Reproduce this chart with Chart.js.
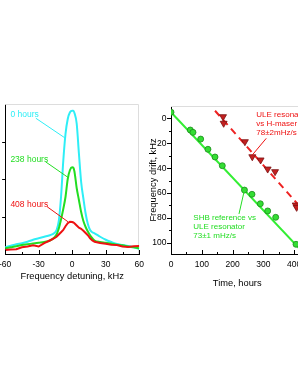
<!DOCTYPE html>
<html><head><meta charset="utf-8">
<script src="https://cdn.jsdelivr.net/npm/chart.js@4"></script>
<style>
html,body{margin:0;padding:0;width:298px;height:385px;overflow:hidden;background:#fff;}
#c1{position:absolute;left:-7px;top:0;}
#c2{position:absolute;left:140px;top:0;}
</style></head><body>
<canvas id="c1" width="157" height="385"></canvas>
<canvas id="c2" width="170" height="385"></canvas>
<script>
// ---- Left panel: spectral hole profiles ----
const detuning = [-60,-55,-50,-45,-40,-35,-30,-25,-20,-16,-14,-12,-10,-8,-6,-4,-2,0,1,2,4,6,8,10,12,14,16,18,20,25,30,35,40,45,50,55,60];
const hours0   = [0.045,0.055,0.065,0.072,0.082,0.095,0.105,0.115,0.125,0.14,0.16,0.22,0.38,0.62,0.8,0.9,0.945,0.955,0.955,0.94,0.87,0.67,0.48,0.37,0.27,0.2,0.16,0.145,0.138,0.115,0.095,0.08,0.067,0.06,0.053,0.045,0.033];
const hours238 = [0.038,0.045,0.052,0.06,0.065,0.07,0.075,0.08,0.09,0.11,0.13,0.17,0.23,0.30,0.38,0.50,0.56,0.578,0.575,0.55,0.44,0.36,0.28,0.22,0.18,0.15,0.125,0.105,0.09,0.08,0.075,0.068,0.062,0.058,0.05,0.045,0.038];
const hours408 = [0.027,0.03,0.032,0.045,0.05,0.058,0.05,0.072,0.09,0.105,0.115,0.13,0.145,0.16,0.185,0.205,0.215,0.213,0.21,0.205,0.19,0.175,0.168,0.155,0.14,0.125,0.105,0.09,0.082,0.074,0.068,0.062,0.06,0.05,0.046,0.052,0.054];
const detTicks = [-60,-30,0,30,60];

// ---- Right panel: frequency drift ----
const shbHours = [0,62.7,71.4,96.4,120,142.9,166.6,238.6,263,290,314,340,406];
const shbDrift = [-5,9.3,11.2,16.6,24.8,31,38,57.6,61,68.6,74.4,79.5,101.2];
const uleHours = [169,171,240,264,291,314,338,405,408];
const uleDrift = [-1.4,3.9,18.7,30.8,33.4,40.7,42.8,69.6,71.5];
const shbFitHours = [0,430];
const shbFitDrift = [-5,108];
const uleFitHours = [143,430];
const uleFitDrift = [-6.2,74];
const timeTicks = [0,100,200,300,400];
const driftTicks = [0,20,40,60,80,100];

Chart.defaults.font.family = "'Liberation Sans', Arial, sans-serif";
Chart.defaults.color = '#000';
const pts = (xs, ys) => xs.map((x,i)=>({x, y: ys[i]}));

const frameTicks = {
  id: 'frameTicks',
  beforeDatasetsDraw(chart, args, opts) {
    const ctx = chart.ctx, a = chart.chartArea;
    ctx.save();
    ctx.strokeStyle = opts.frameColor; ctx.lineWidth = 1;
    ctx.beginPath();
    ctx.moveTo(a.left, Math.round(a.top)+0.5);
    ctx.lineTo(Math.round(a.right)-0.5, Math.round(a.top)+0.5);
    ctx.lineTo(Math.round(a.right)-0.5, a.bottom);
    ctx.stroke();
    ctx.restore();
  },
  afterDraw(chart, args, opts) {
    const ctx = chart.ctx, a = chart.chartArea;
    ctx.save(); ctx.strokeStyle = '#000'; ctx.lineWidth = 1;
    for (const t of opts.ticks) {
      const s = chart.scales[t.axis];
      for (const [vals, len] of [[t.major, t.majorLen], [t.minor, t.minorLen]]) {
        for (const v of vals) {
          const p = Math.round(s.getPixelForValue(v)) + 0.5;
          ctx.beginPath();
          if (t.axis === 'x') { const y0 = a.bottom; ctx.moveTo(p, y0); ctx.lineTo(p, t.dir === 'in' ? y0 - len : y0 + len); }
          else { const x0 = a.left; ctx.moveTo(x0, p); ctx.lineTo(t.dir === 'in' ? x0 + len : x0 - len, p); }
          ctx.stroke();
        }
      }
    }
    ctx.restore();
  }
};

const notes = {
  id: 'notes',
  afterDatasetsDraw(chart, args, opts) {
    const ctx = chart.ctx, xs = chart.scales.x, ys = chart.scales.y;
    ctx.save();
    for (const n of opts.items) {
      ctx.strokeStyle = n.color; ctx.fillStyle = n.color; ctx.lineWidth = 1;
      if (n.line) {
        ctx.beginPath();
        ctx.moveTo(xs.getPixelForValue(n.line[0]), ys.getPixelForValue(n.line[1]));
        ctx.lineTo(xs.getPixelForValue(n.line[2]), ys.getPixelForValue(n.line[3]));
        ctx.stroke();
      }
      ctx.font = n.font; ctx.textBaseline = 'middle'; ctx.textAlign = 'left';
      n.text.forEach((t, i) => ctx.fillText(t, xs.getPixelForValue(n.x), ys.getPixelForValue(n.y[i])));
    }
    ctx.restore();
  }
};

const FONT_NOTE = "8.5px 'Liberation Sans', Arial, sans-serif";
const FONT_NOTE2 = "8px 'Liberation Sans', Arial, sans-serif";

new Chart(document.getElementById('c1'), {
  type: 'line',
  data: { datasets: [
    { data: pts(detuning, hours0), borderColor: '#2eeef6', borderWidth: 2, pointRadius: 0, cubicInterpolationMode: 'monotone', order: 2 },
    { data: pts(detuning, hours238), borderColor: '#22dd22', borderWidth: 2, pointRadius: 0, cubicInterpolationMode: 'monotone', order: 1 },
    { data: pts(detuning, hours408), borderColor: '#ee1111', borderWidth: 2, pointRadius: 0, order: 0 }
  ]},
  options: {
    responsive: false, animation: false, events: [],
    layout: { padding: { top: 104, right: 7.5, bottom: 91, left: 0 } },
    plugins: { legend: { display: false }, tooltip: { enabled: false },
      frameTicks: { frameColor: '#dddddd', ticks: [
        { axis: 'x', dir: 'in', major: detTicks, minor: [-45,-15,15,45], majorLen: 4, minorLen: 2 },
        { axis: 'y', dir: 'out', major: [0.25,0.5,0.75], minor: [], majorLen: 3, minorLen: 0 } ] },
      notes: { items: [
        { color: '#2eeef6', font: FONT_NOTE, x: -55.3, y: [0.927], text: ['0 hours'], line: [-32.5,0.905,-6.7,0.775] },
        { color: '#22dd22', font: FONT_NOTE, x: -55.3, y: [0.627], text: ['238 hours'], line: [-23.9,0.615,-3.8,0.511] },
        { color: '#ee1111', font: FONT_NOTE, x: -55.3, y: [0.327], text: ['408 hours'], line: [-22.4,0.315,-3.8,0.215] }
      ] }
    },
    scales: {
      x: { type: 'linear', min: -60, max: 60,
        ticks: { stepSize: 30, padding: 6, font: { size: 8.5 }, includeBounds: false, maxRotation: 0 },
        grid: { display: true, drawOnChartArea: false, drawTicks: false },
        border: { display: true, color: '#000', width: 1 },
        title: { display: true, text: 'Frequency detuning, kHz', font: { size: 9.3 }, padding: { top: 0, bottom: 12.4 } },
        afterFit: s => { s.height = 40; } },
      y: { type: 'linear', min: 0, max: 1,
        ticks: { display: false },
        grid: { display: true, drawOnChartArea: false, drawTicks: false },
        border: { display: true, color: '#000', width: 1 },
        afterFit: s => { s.width = 10; } }
    }
  },
  plugins: [frameTicks, notes]
});

new Chart(document.getElementById('c2'), {
  type: 'line',
  data: { datasets: [
    { data: pts(shbHours, shbDrift), showLine: false, pointStyle: 'circle', pointRadius: 3, pointBackgroundColor: '#33dd33', pointBorderColor: '#1c8a1c', pointBorderWidth: 0.8, order: 0 },
    { data: pts(uleHours, uleDrift), showLine: false, pointStyle: 'triangle', rotation: 180, pointRadius: 4, pointBackgroundColor: '#c42020', pointBorderColor: '#7a1010', pointBorderWidth: 0.8, order: 1 },
    { data: pts(shbFitHours, shbFitDrift), borderColor: '#33ee33', borderWidth: 2, pointRadius: 0, order: 3 },
    { data: pts(uleFitHours, uleFitDrift), borderColor: '#ee2222', borderWidth: 2, borderDash: [7,5], pointRadius: 0, order: 2 }
  ]},
  options: {
    responsive: false, animation: false, events: [],
    layout: { padding: { top: 106, right: 6.6, bottom: 91, left: 0 } },
    plugins: { legend: { display: false }, tooltip: { enabled: false },
      frameTicks: { frameColor: '#dddddd', ticks: [
        { axis: 'x', dir: 'in', major: timeTicks, minor: [50,150,250,350], majorLen: 4, minorLen: 2 },
        { axis: 'y', dir: 'out', major: driftTicks, minor: [10,30,50,70,90], majorLen: 4, minorLen: 2 } ] },
      notes: { items: [
        { color: '#ee1111', font: FONT_NOTE2, x: 277, y: [-2.7,4.5,11.7], text: ['ULE resonator','vs H-maser','78±2mHz/s'], line: [309.4,16,264,29.4] },
        { color: '#22dd22', font: FONT_NOTE2, x: 72.4, y: [80.1,87.3,94.5], text: ['SHB reference vs','ULE resonator','73±1 mHz/s'], line: [220.8,76.8,237,59.2] }
      ] }
    },
    scales: {
      x: { type: 'linear', min: 0, max: 430,
        ticks: { stepSize: 100, padding: 6, font: { size: 8.5 }, includeBounds: false, maxRotation: 0 },
        grid: { display: true, drawOnChartArea: false, drawTicks: false },
        border: { display: true, color: '#000', width: 1 },
        title: { display: true, text: 'Time, hours', font: { size: 9.3 }, padding: { top: 0, bottom: 5.4 } },
        afterFit: s => { s.height = 40; } },
      y: { type: 'linear', min: -10, max: 109, reverse: true,
        ticks: { stepSize: 20, padding: 4.5, font: { size: 8.5 }, includeBounds: false },
        grid: { display: true, drawOnChartArea: false, drawTicks: false },
        border: { display: true, color: '#000', width: 1 },
        title: { display: true, text: 'Frequency drift, kHz', font: { size: 9.3 }, padding: { top: 7.4, bottom: 0 } },
        afterFit: s => { s.width = 31; } }
    }
  },
  plugins: [frameTicks, notes]
});
</script>
</body></html>
